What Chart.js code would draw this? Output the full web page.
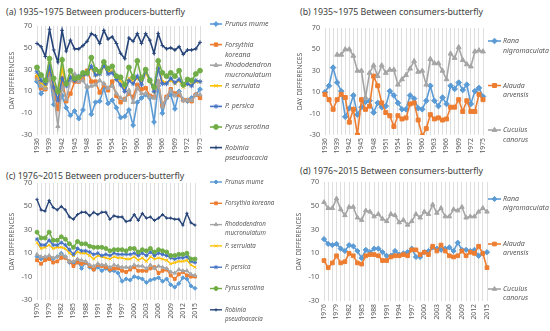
<!DOCTYPE html>
<html>
<head>
<meta charset="utf-8">
<script src="https://cdn.jsdelivr.net/npm/chart.js@4.4.0/dist/chart.umd.min.js"></script>
<style>
body { margin: 0; width: 550px; height: 331px; background: #fff; position: relative; overflow: hidden; font-family: "Noto Sans", sans-serif; }
canvas { position: absolute; }
.ttl { position: absolute; font-size: 8.8px; color: #404040; white-space: nowrap; line-height: 1; }
</style>
</head>
<body>
<div class="ttl" style="left:6px;top:8px">(a) 1935~1975 Between producers-butterfly</div>
<div class="ttl" style="left:300px;top:8px">(b) 1935~1975 Between consumers-butterfly</div>
<div class="ttl" style="left:6px;top:172px">(c) 1976~2015 Between producers-butterfly</div>
<div class="ttl" style="left:300px;top:167px">(d) 1976~2015 Between consumers-butterfly</div>
<canvas id="chartA" width="290" height="165" style="left:0;top:0"></canvas>
<canvas id="chartB" width="275" height="165" style="left:275px;top:0"></canvas>
<canvas id="chartC" width="290" height="166" style="left:0;top:165px"></canvas>
<canvas id="chartD" width="275" height="166" style="left:275px;top:165px"></canvas>
<script>
// Categories
const yearsEarly = [1936, 1937, 1938, 1939, 1940, 1941, 1942, 1943, 1944, 1945,
    1946, 1947, 1948, 1949, 1950, 1951, 1952, 1953, 1954, 1955,
    1956, 1957, 1958, 1959, 1960, 1961, 1962, 1963, 1964, 1965,
    1966, 1967, 1968, 1969, 1970, 1971, 1972, 1973, 1974, 1975];
const yearsLate = [1976, 1977, 1978, 1979, 1980, 1981, 1982, 1983, 1984, 1985,
    1986, 1987, 1988, 1989, 1990, 1991, 1992, 1993, 1994, 1995,
    1996, 1997, 1998, 1999, 2000, 2001, 2002, 2003, 2004, 2005,
    2006, 2007, 2008, 2009, 2010, 2011, 2012, 2013, 2014, 2015];

const yTicks = [-30, -10, 10, 30, 50, 70];

// (a) 1935~1975 producers
const prunusA = [19, 8, 13, 24, -2, -4, 6, -5, -12, -8, -15, -7, 14, -11, 0, 1, 13, -1, 2, -5,
    -14, -13, -7, -21, 0, 4, 7, 4, -18, 15, -10, 4, 7, -6, 10, 2, 1, 4, 7, 12];
const forsythiaA = [23, 13, 12, 30, 12, -6, 22, 1, 8, 19, 19, 21, 29, 19, 19, 9, 16, 11, 19, 6,
    0, 3, 8, 5, 16, 12, 13, 6, 5, 19, -3, 5, 12, 8, 7, 2, 2, 1, 7, 4];
const rhodoA = [21, 15, 13, 22, 7, -22, 14, 3, 20, 26, 19, 20, 14, 15, 16, 20, 17, 13, 15, 8,
    4, 2, 11, 0, 13, 8, 8, 5, 4, 19, -4, 4, 11, 6, 9, 2, 2, 2, 7, 7];
const serrulataA = [25, 18, 15, 35, 16, 8, 31, 17, 24, 21, 22, 24, 28, 31, 25, 26, 33, 28, 29, 21,
    20, 12, 22, 19, 22, 18, 27, 20, 10, 33, 19, 18, 20, 17, 20, 14, 17, 16, 19, 19];
const persicaA = [28, 20, 17, 33, 14, 2, 22, 15, 23, 20, 24, 25, 26, 33, 25, 26, 34, 26, 27, 21,
    16, 10, 20, 17, 24, 16, 29, 21, 10, 31, 17, 17, 22, 18, 21, 16, 17, 15, 20, 19];
const pyrusA = [32, 25, 20, 40, 22, 10, 39, 17, 29, 22, 23, 27, 27, 41, 30, 28, 37, 31, 33, 24,
    23, 16, 32, 23, 38, 22, 30, 20, 14, 38, 27, 24, 27, 24, 29, 16, 21, 20, 26, 29];
const robiniaA = [54, 51, 42, 67, 48, 37, 66, 47, 57, 49, 49, 52, 56, 63, 61, 54, 66, 58, 60, 54,
    45, 40, 59, 56, 63, 54, 63, 57, 45, 63, 52, 49, 50, 48, 51, 44, 48, 48, 49, 55];

// (b) 1935~1975 consumers
const ranaB = [10, 16, 33, 19, 11, -13, -5, 7, -11, -4, 1, 2, -9, 0, -4, -3, 11, 7, 0, -6,
    -6, 7, 4, -5, -6, 2, 16, 2, -3, 5, -1, 16, 13, 19, 12, 17, -1, 11, 14, 6];
const alaudaB = [8, 3, -6, 3, 8, 5, -18, -6, -30, 3, -6, -3, 25, 16, 0, -9, -12, -22, -12, -15,
    -14, -1, 0, -16, -31, -24, -11, -15, -14, -16, -15, -4, -4, 3, -8, 2, -8, -8, 8, 3];
const cuculusB = [null, null, null, 45, 45, 50, 50, 44, 30, 30, 5, 28, 35, 25, 35, 28, 31, 31, 17, 22,
    26, 32, 39, 29, 30, 17, 41, 37, 37, 30, 22, 46, 42, 52, 40, 36, 34, 48, 49, 48];

// (c) 1976~2015 producers
const prunusC = [7, 5, 5, 6, 5, 7, 10, 7, 2, 1, 3, -3, 2, -2, -4, -2, -5, -3, -5, -5,
    -7, -14, -12, -13, -10, -11, -12, -15, -13, -12, -11, -14, -12, -17, -19, -16, -11, -12, -18, -20];
const forsythiaC = [4, 1, 4, 5, 2, 3, 6, 6, 3, -1, 2, 1, 2, -1, -4, 0, -1, -2, -4, -3,
    -3, -5, -6, -4, -2, -5, -5, -5, -3, -2, -7, -5, -4, -9, -12, -8, -6, -9, -10, -10];
const rhodoC = [9, 7, 7, 8, 6, 7, 9, 7, 3, 3, 5, 4, 3, 0, -1, 1, 0, 0, -2, 0,
    -1, -2, -2, -2, 0, -1, -1, -3, 0, -3, -1, -2, -3, -6, -7, -4, -5, -5, -8, -9];
const serrulataC = [19, 14, 15, 17, 14, 15, 15, 14, 10, 8, 11, 10, 10, 8, 5, 8, 7, 6, 5, 7,
    6, 6, 5, 5, 7, 4, 6, 3, 7, 5, 6, 5, 4, 1, 2, 3, 3, 4, 0, -2];
const persicaC = [22, 17, 17, 21, 17, 17, 19, 17, 13, 9, 14, 12, 12, 11, 9, 10, 8, 9, 8, 10,
    9, 9, 9, 9, 10, 8, 10, 8, 11, 8, 10, 9, 8, 6, 5, 6, 6, 7, 3, 2];
const pyrusC = [28, 23, 23, 28, 21, 21, 24, 22, 18, 15, 20, 18, 18, 16, 15, 15, 15, 14, 12, 13,
    13, 13, 12, 14, 14, 11, 13, 12, 14, 11, 13, 12, 11, 8, 8, 9, 9, 10, 5, 5];
const robiniaC = [56, 47, 46, 55, 49, 47, 50, 47, 41, 39, 43, 45, 45, 42, 45, 43, 45, 45, 39, 42,
    41, 41, 37, 38, 43, 38, 44, 40, 41, 38, 40, 43, 40, 40, 39, 39, 34, 44, 36, 34];

// (d) 1976~2015 consumers
const ranaD = [22, 18, 17, 18, 14, 12, 17, 16, 12, 6, 13, 11, 14, 14, 11, 8, 8, 12, 9, 10,
    11, 14, 7, 7, 11, 12, 15, 14, 13, 14, 15, 12, 19, 13, 13, 12, 13, 8, 10, 11];
const alaudaD = [4, -2, 2, 8, 2, 3, 10, 8, 2, 1, 8, 9, 9, 8, 4, 4, 7, 8, 8, 9,
    8, 13, 13, 9, 11, 9, 16, 12, 17, 12, 8, 7, 8, 12, 8, 11, 10, 16, 10, -2];
const cuculusD = [53, 48, 48, 56, 47, 42, 49, 49, 40, 38, 46, 45, 41, 43, 39, 37, 43, 42, 36, 38,
    34, 37, 43, 40, 45, 43, 51, 44, 48, 41, 41, 47, 46, 49, 40, 41, 41, 45, 48, 45];

// Legend texts
const producerLegendA = [['Prunus mume'], ['Forsythia', 'koreana'], ['Rhododendron', 'mucronulatum'],
    ['P. serrulata'], ['P. persica'], ['Pyrus serotina'], ['Robinia', 'pseudoacacia']];
const producerLegendC = [['Prunus mume'], ['Forsythia koreana'], ['Rhododendron', 'mucronulatum'],
    ['P. serrulata'], ['P. persica'], ['Pyrus serotina'], ['Robinia', 'pseudoacacia']];
const consumerLegend = [['Rana', 'nigromaculata'], ['Alauda', 'arvensis'], ['Cuculus', 'canorus']];

const producerColors = ['#5B9BD5', '#ED7D31', '#A5A5A5', '#FFC000', '#4472C4', '#70AD47', '#264478'];
const producerMarkers = ['rectRot', 'rect', 'triangle', 'crossRot', 'star', 'circle', 'cross'];
const consumerColors = ['#5B9BD5', '#ED7D31', '#A5A5A5'];
const consumerMarkers = ['rectRot', 'rect', 'triangle'];

// Legend drawn at the right side of each chart
const sideLegend = {
    id: 'sideLegend',
    afterDraw(chart, args, opts) {
        const ctx = chart.ctx;
        ctx.save();
        chart.data.datasets.forEach((ds, i) => {
            const y = opts.y0 + i * opts.dy;
            ctx.strokeStyle = ds.borderColor;
            ctx.lineWidth = ds.borderWidth;
            ctx.beginPath();
            ctx.moveTo(opts.x0, y);
            ctx.lineTo(opts.x1, y);
            ctx.stroke();
            ctx.fillStyle = ds.borderColor;
            ctx.lineWidth = 1;
            Chart.helpers.drawPoint(ctx, {
                pointStyle: ds.pointStyle, radius: ds.pointRadius, rotation: 0, borderWidth: 1
            }, (opts.x0 + opts.x1) / 2, y);
            ctx.fillStyle = '#595959';
            ctx.font = 'italic ' + opts.size + 'px "Noto Sans"';
            ctx.textBaseline = 'middle';
            ctx.textAlign = 'left';
            opts.lines[i].forEach((t, k) => ctx.fillText(t, opts.tx, y + k * opts.lh));
        });
        ctx.restore();
    }
};

function buildDatasets(seriesList, colors, markers, legendLines, radius, width) {
    return seriesList.map((values, i) => ({
        label: legendLines[i].join(' '),
        data: values,
        borderColor: colors[i],
        backgroundColor: colors[i],
        pointBackgroundColor: colors[i],
        pointBorderColor: colors[i],
        pointStyle: markers[i],
        pointRadius: markers[i] === 'cross' ? radius * 0.8 : radius,
        pointBorderWidth: 1,
        borderWidth: width,
        order: seriesList.length - i,
        tension: 0
    }));
}

function makeChart(id, labels, datasets, pad, yWidth, xHeight, legendOpts) {
    const ctx = document.getElementById(id);
    return new Chart(ctx, {
        type: 'line',
        data: { labels: labels, datasets: datasets },
        plugins: [sideLegend],
        options: {
            responsive: false,
            animation: false,
            devicePixelRatio: 1,
            layout: { padding: pad },
            plugins: {
                legend: { display: false },
                tooltip: { enabled: false },
                sideLegend: legendOpts
            },
            scales: {
                x: {
                    grid: { display: true, color: '#DEDEDE', lineWidth: 1, drawTicks: false },
                    border: { display: false },
                    ticks: {
                        autoSkip: false,
                        minRotation: 90,
                        maxRotation: 90,
                        padding: 3,
                        color: '#595959',
                        font: { family: 'Noto Sans', size: 6.8 },
                        callback: function(v, i) { return i % 3 === 0 ? this.getLabelForValue(v) : ''; }
                    },
                    afterFit: function(scale) { scale.height = xHeight; }
                },
                y: {
                    min: yTicks[0],
                    max: yTicks[yTicks.length - 1],
                    grid: { display: false, drawTicks: false },
                    border: { display: false },
                    afterBuildTicks: function(scale) { scale.ticks = yTicks.map(v => ({ value: v })); },
                    ticks: {
                        padding: 5,
                        color: '#595959',
                        font: { family: 'Noto Sans', size: 7.2 }
                    },
                    title: {
                        display: true,
                        text: 'DAY DIFFERENCES',
                        color: '#595959',
                        padding: { top: 8, bottom: 0 },
                        font: { family: 'Noto Sans', size: 6.8 }
                    },
                    afterFit: function(scale) { scale.width = yWidth; }
                }
            }
        }
    });
}

document.addEventListener('DOMContentLoaded', function() {
    makeChart('chartA', yearsEarly,
        buildDatasets([prunusA, forsythiaA, rhodoA, serrulataA, persicaA, pyrusA, robiniaA],
            producerColors, producerMarkers, producerLegendA, 2.4, 1.6),
        { left: 0, top: 26, right: 90, bottom: 0 }, 37, 30,
        { x0: 210, x1: 222, tx: 225, y0: 24, dy: 20.6, lh: 10, size: 7, lines: producerLegendA });

    makeChart('chartB', yearsEarly,
        buildDatasets([ranaB, alaudaB, cuculusB], consumerColors, consumerMarkers, consumerLegend, 2.8, 1.6),
        { left: 13, top: 28, right: 67, bottom: 0 }, 37, 30,
        { x0: 213, x1: 226, tx: 228, y0: 41, dy: 44.5, lh: 9.5, size: 7, lines: consumerLegend });

    makeChart('chartC', yearsLate,
        buildDatasets([prunusC, forsythiaC, rhodoC, serrulataC, persicaC, pyrusC, robiniaC],
            producerColors, producerMarkers, producerLegendC, 2, 1.4),
        { left: 0, top: 18, right: 95, bottom: 0 }, 37, 31,
        { x0: 210, x1: 222, tx: 225, y0: 17, dy: 21.3, lh: 9, size: 6.2, lines: producerLegendC });

    makeChart('chartD', yearsLate,
        buildDatasets([ranaD, alaudaD, cuculusD], consumerColors, consumerMarkers, consumerLegend, 2.6, 1.6),
        { left: 12, top: 17, right: 63, bottom: 0 }, 37, 30,
        { x0: 213, x1: 226, tx: 228, y0: 34, dy: 45, lh: 9, size: 7, lines: consumerLegend });
});
</script>
</body>
</html>
